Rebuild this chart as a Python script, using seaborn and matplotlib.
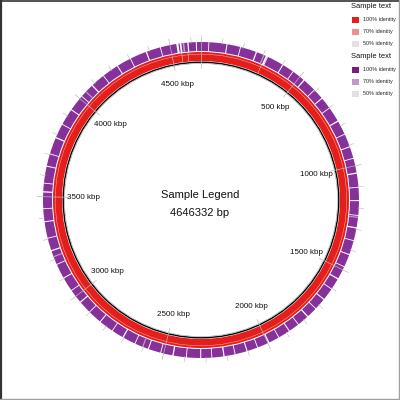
import numpy as np
import pandas as pd
import seaborn as sns
import matplotlib
matplotlib.use("Agg")
import matplotlib.pyplot as plt
from matplotlib.patches import Wedge, Circle, Rectangle
from matplotlib.lines import Line2D

# ---------------- data ----------------
genome_len_bp = 4646332
center_title = "Sample Legend"
tick_kbp = [500, 1000, 1500, 2000, 2500, 3000, 3500, 4000, 4500]
tick_labels = [f"{k} kbp" for k in tick_kbp]

# white gaps in the outer (purple) ring, kbp positions and widths (kbp)
purple_gap_kbp = [35, 120, 185, 262, 312, 320, 400, 458, 522, 590, 642, 700, 772, 842,
                  905, 962, 1032, 1100, 1162, 1232, 1290, 1352, 1420, 1482, 1545, 1602,
                  1662, 1720, 1772, 1830, 1882, 1940, 1992, 2050, 2102, 2160, 2212, 2270,
                  2322, 2390, 2452, 2512, 2572, 2640, 2702, 2762, 2832, 2900, 2962, 3032,
                  3100, 3172, 3240, 3302, 3380, 3442, 3520, 3562, 3642, 3702, 3782, 3852,
                  3932, 4012, 4082, 4152, 4232, 4302, 4382, 4452, 4530, 4546, 4582, 4622]
purple_gap_width_kbp = [4, 5, 4, 6, 8, 4, 5, 4, 6, 4, 5, 4, 6, 4,
                        5, 4, 6, 4, 5, 4, 6, 4, 5, 4, 6, 4,
                        5, 4, 6, 4, 5, 4, 6, 4, 5, 4, 6, 4,
                        5, 4, 6, 4, 5, 4, 6, 4, 5, 4, 6, 4,
                        5, 4, 6, 4, 5, 4, 6, 4, 5, 4, 6, 4,
                        5, 4, 6, 4, 5, 4, 6, 4, 10, 8, 6, 5]
# lighter (70 % identity) stretches in the purple ring, kbp
purple_light_start_kbp = [300, 1240, 2600, 3210, 4040, 4560]
purple_light_end_kbp = [306, 1246, 2606, 3216, 4046, 4568]
# white gaps in the inner (red) ring
red_gap_kbp = [310, 4548, 4580]
red_gap_width_kbp = [3, 3, 3]

legend_titles = ["Sample text", "Sample text"]
legend_labels = ["100% identity", "70% identity", "50% identity"]
red_levels = ["#e41f1b", "#ea9191", "#e2e2e2"]
purple_levels = ["#7c1c7e", "#c398c8", "#e2e2e2"]

# ---------------- style ----------------
sns.set_theme(style="white")
plt.rcParams["font.family"] = ["Liberation Sans", "DejaVu Sans"]

fig = plt.figure(figsize=(4, 4), dpi=100)
ax = fig.add_axes([0, 0, 1, 1])
ax.set_xlim(0, 400)
ax.set_ylim(400, 0)
ax.axis("off")

cx, cy = 201, 200
kbp_total = genome_len_bp / 1000.0

def ang(kbp):
    # visual angle, clockwise from top, in degrees
    return kbp / kbp_total * 360.0

def theta(kbp):
    return ang(kbp) - 90.0

ring_purple_color = "#86309a"

# purple outer ring
r_po, w_p = 158, 9
ax.add_patch(Wedge((cx, cy), r_po, 0, 360, width=w_p, facecolor=ring_purple_color,
                   edgecolor="none"))
for s, e in zip(purple_light_start_kbp, purple_light_end_kbp):
    ax.add_patch(Wedge((cx, cy), r_po, theta(s), theta(e), width=w_p,
                       facecolor=purple_levels[1], edgecolor="none"))
for g, w in zip(purple_gap_kbp, purple_gap_width_kbp):
    ax.add_patch(Wedge((cx, cy), r_po + 0.5, theta(g), theta(g + w), width=w_p + 1,
                       facecolor="white", edgecolor="none"))

# red ring
r_ro, w_r = 148, 9
ax.add_patch(Wedge((cx, cy), r_ro, 0, 360, width=w_r, facecolor=red_levels[0],
                   edgecolor="none"))
ax.add_patch(Circle((cx, cy), r_ro - 2.2, fill=False, edgecolor="#f3a0a0", lw=0.4))
for g, w in zip(red_gap_kbp, red_gap_width_kbp):
    ax.add_patch(Wedge((cx, cy), r_ro, theta(g), theta(g + w), width=w_r,
                       facecolor="#f6c0c0", edgecolor="none"))

# black backbone circle
ax.add_patch(Circle((cx, cy), 137.8, fill=False, edgecolor="black", lw=1.0))
ax.add_patch(Circle((cx, cy), 136.6, fill=False, edgecolor="#9a9a9a", lw=0.4))

# ticks
for k in range(0, int(kbp_total) + 1, 100):
    a = np.radians(ang(k))
    if k % 500 == 0:
        r1, r2, lw = 132, 164, 0.5
    else:
        r1, r2, lw = 157, 163, 0.4
    ax.add_line(Line2D([cx + r1 * np.sin(a), cx + r2 * np.sin(a)],
                       [cy - r1 * np.cos(a), cy - r2 * np.cos(a)],
                       color="#b8b8b8", lw=lw, zorder=3))

# tick labels
r_lab = 118
for k, lab in zip(tick_kbp, tick_labels):
    a = np.radians(ang(k))
    ax.text(cx + r_lab * np.sin(a), cy - r_lab * np.cos(a), lab, fontsize=5.8,
            ha="center", va="center", color="#111111")

# centre text
ax.text(200, 195, center_title, fontsize=8, ha="center", va="center", color="#111111")
ax.text(200, 213, f"{genome_len_bp} bp", fontsize=8, ha="center", va="center",
        color="#111111")

# legend
def legend_block(y0, title, colors):
    ax.text(351, y0, title, fontsize=5.4, ha="left", va="center", color="#111111")
    for i, (lab, c) in enumerate(zip(legend_labels, colors)):
        yy = y0 + 13 + i * 11.8
        ax.add_patch(Rectangle((352, yy - 3), 6.5, 6, facecolor=c, edgecolor="none"))
        ax.text(363, yy, lab, fontsize=3.9, ha="left", va="center", color="#222222")

legend_block(7, legend_titles[0], red_levels)
legend_block(57, legend_titles[1], purple_levels)

# frame
ax.add_line(Line2D([0.8, 0.8], [0, 400], color="#333333", lw=1.6))
ax.add_line(Line2D([0, 400], [0.6, 0.6], color="#333333", lw=1.2))
ax.add_line(Line2D([398.5, 398.5], [0, 400], color="#a0a0a0", lw=1.0))
ax.add_line(Line2D([0, 400], [398.5, 398.5], color="#a0a0a0", lw=1.0))

fig.savefig("out.png", dpi=100, facecolor="white")
